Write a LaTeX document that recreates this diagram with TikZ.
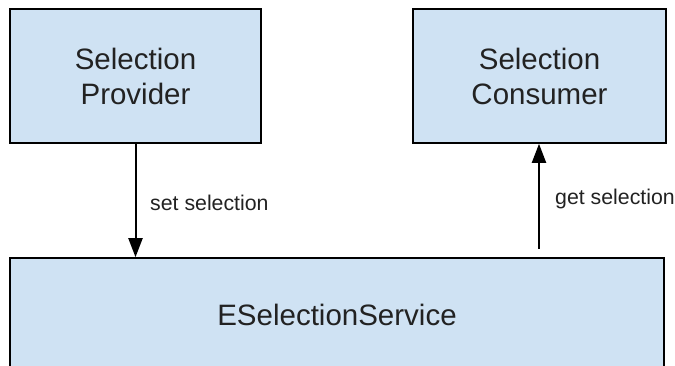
\documentclass[tikz,border=0pt]{standalone}
\usepackage{fontspec}
\setmainfont{Liberation Sans}
\usetikzlibrary{arrows.meta}
\definecolor{boxfill}{HTML}{CFE2F3}
\definecolor{txt}{HTML}{222222}
\tikzset{
  box/.style={draw=black, line width=1.6pt, fill=boxfill, inner sep=0pt,
    align=center, text=txt, font=\fontsize{29.5}{35}\selectfont},
  conn/.style={line width=2pt, -{Triangle[width=14pt,length=19pt]}},
  lbl/.style={anchor=west, inner sep=0pt, text=txt, font=\fontsize{21.3}{25}\selectfont}
}
\begin{document}
\begin{tikzpicture}[x=1pt,y=-1pt]
\useasboundingbox (0,0) rectangle (675,366);
\clip (0,0) rectangle (675,366);
\node[box, minimum width=251pt, minimum height=134pt] (prov) at (135.5,76) {Selection\\Provider};
\node[box, minimum width=253pt, minimum height=134pt] (cons) at (539.5,76) {Selection\\Consumer};
\node[box, minimum width=654pt, minimum height=114pt] (svc) at (337,315) {ESelectionService};
\coordinate (gtop) at (539,249);
\draw[conn] (prov.south) -- (prov.south |- svc.north);
\draw[conn] (gtop) -- (gtop |- cons.south);
\node[lbl] (setl) at (150,203) {set selection};
\node[lbl] (getl) at (555,199) {get selection};
\end{tikzpicture}
\end{document}
